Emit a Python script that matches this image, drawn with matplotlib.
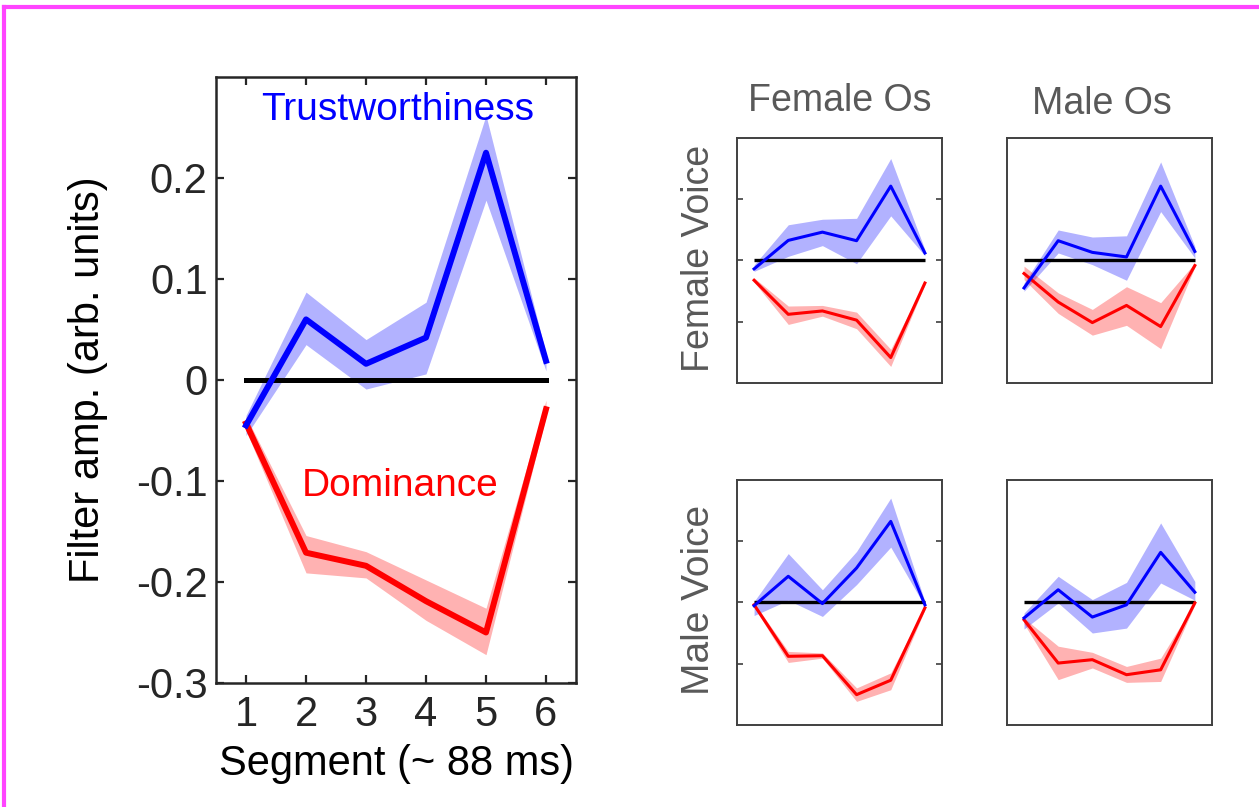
import matplotlib.pyplot as plt
from matplotlib.lines import Line2D

plt.rcParams['font.family'] = ['Liberation Sans', 'DejaVu Sans']

segments = [1, 2, 3, 4, 5, 6]

# main panel (all observers, all voices)
trust_mean = [-0.045, 0.060, 0.016, 0.042, 0.225, 0.019]
trust_lo = [-0.055, 0.035, -0.009, 0.006, 0.178, 0.009]
trust_hi = [-0.035, 0.087, 0.040, 0.077, 0.262, 0.026]
dom_mean = [-0.043, -0.171, -0.184, -0.219, -0.250, -0.029]
dom_lo = [-0.050, -0.191, -0.196, -0.238, -0.272, -0.036]
dom_hi = [-0.036, -0.154, -0.170, -0.198, -0.226, -0.020]

# small panels, order: female voice/female Os, female voice/male Os,
# male voice/female Os, male voice/male Os
sub_trust = [[-0.028, 0.065, 0.092, 0.064, 0.242, 0.024],
             [-0.090, 0.064, 0.026, 0.011, 0.242, 0.029],
             [-0.011, 0.085, -0.004, 0.112, 0.264, -0.008],
             [-0.051, 0.041, -0.048, -0.008, 0.163, 0.033]]
sub_trust_lo = [[-0.036, 0.013, 0.048, -0.011, 0.145, 0.015],
                [-0.101, 0.024, -0.014, -0.065, 0.159, 0.008],
                [-0.043, 0.007, -0.046, 0.058, 0.180, -0.013],
                [-0.087, -0.002, -0.100, -0.084, 0.063, 0.007]]
sub_trust_hi = [[-0.015, 0.116, 0.134, 0.137, 0.332, 0.035],
                [-0.074, 0.099, 0.076, 0.080, 0.321, 0.045],
                [0.003, 0.159, 0.041, 0.166, 0.340, 0.003],
                [-0.035, 0.085, 0.009, 0.065, 0.259, 0.068]]
sub_dom = [[-0.065, -0.176, -0.165, -0.195, -0.317, -0.074],
           [-0.043, -0.136, -0.203, -0.147, -0.216, -0.017],
           [-0.008, -0.176, -0.174, -0.301, -0.254, -0.018],
           [-0.057, -0.198, -0.187, -0.236, -0.220, -0.002]]
sub_dom_lo = [[-0.071, -0.209, -0.182, -0.223, -0.346, -0.079],
              [-0.063, -0.173, -0.244, -0.212, -0.288, -0.022],
              [-0.015, -0.196, -0.182, -0.323, -0.285, -0.024],
              [-0.070, -0.252, -0.214, -0.261, -0.258, -0.008]]
sub_dom_hi = [[-0.057, -0.149, -0.147, -0.169, -0.290, -0.068],
              [-0.019, -0.106, -0.160, -0.086, -0.138, -0.009],
              [-0.002, -0.160, -0.165, -0.279, -0.230, -0.013],
              [-0.051, -0.143, -0.163, -0.209, -0.182, 0.000]]

col_labels = ['Female Os', 'Male Os']
row_labels = ['Female Voice', 'Male Voice']

fig = plt.figure(figsize=(12.59, 8.07), dpi=100)

# magenta frame (top and left edges)
fig.add_artist(Line2D([0.003, 1.0], [0.991, 0.991], color='#ff44ff', lw=3,
                      transform=fig.transFigure))
fig.add_artist(Line2D([0.003, 0.003], [0.0, 0.991], color='#ff44ff', lw=3,
                      transform=fig.transFigure))

# ---- main panel ----
ax = fig.add_axes([0.1716, 0.1537, 0.2859, 0.7509])
ax.fill_between(segments, trust_lo, trust_hi, color='blue', alpha=0.3, lw=0)
ax.fill_between(segments, dom_lo, dom_hi, color='red', alpha=0.3, lw=0)
ax.plot([1, 6], [0, 0], color='black', lw=3.6, solid_capstyle='projecting')
ax.plot(segments, dom_mean, color='red', lw=4.3)
ax.plot(segments, trust_mean, color='blue', lw=4.3)
ax.text(3.53, 0.267, 'Trustworthiness', color='blue', fontsize=28,
        ha='center', va='center')
ax.text(3.57, -0.105, 'Dominance', color='red', fontsize=28,
        ha='center', va='center')
ax.set_xlim(0.5, 6.5)
ax.set_ylim(-0.3, 0.3)
ax.set_xticks(segments)
ax.set_yticks([-0.3, -0.2, -0.1, 0, 0.1, 0.2])
ax.set_yticklabels(['-0.3', '-0.2', '-0.1', '0', '0.1', '0.2'])
ax.tick_params(direction='in', top=True, right=True, length=6, width=1.6,
               color='#262626', labelcolor='#262626', labelsize=30)
ax.tick_params(axis='x', pad=9)
ax.tick_params(axis='y', pad=6)
for s in ax.spines.values():
    s.set_linewidth(1.8)
    s.set_color('#262626')
ax.set_xlabel('Segment (~ 88 ms)', fontsize=30, labelpad=6)
ax.set_ylabel('Filter amp. (arb. units)', fontsize=30, labelpad=20)

# ---- small panels ----
positions = [[0.5854, 0.5254], [0.7998, 0.5254],
             [0.5854, 0.1016], [0.7998, 0.1016]]
for i, (x0, y0) in enumerate(positions):
    sa = fig.add_axes([x0, y0, 0.1628, 0.3040])
    sa.fill_between(segments, sub_trust_lo[i], sub_trust_hi[i], color='blue',
                    alpha=0.3, lw=0)
    sa.fill_between(segments, sub_dom_lo[i], sub_dom_hi[i], color='red',
                    alpha=0.3, lw=0)
    sa.plot([1, 6], [0, 0], color='black', lw=2.4, solid_capstyle='butt')
    sa.plot(segments, sub_dom[i], color='red', lw=2.2)
    sa.plot(segments, sub_trust[i], color='blue', lw=2.2)
    sa.set_xlim(0.5, 6.5)
    sa.set_ylim(-0.4, 0.4)
    sa.set_xticks([])
    if i % 2 == 0:
        sa.set_yticks([-0.2, 0, 0.2])
        sa.tick_params(axis='y', direction='in', left=True, right=True,
                       length=4, width=1.2, color='#404040', labelleft=False)
    else:
        sa.set_yticks([])
    for s in sa.spines.values():
        s.set_linewidth(1.4)
        s.set_color('#404040')

fig.text(840 / 1259, 1 - 101 / 807, col_labels[0], fontsize=27,
         color='#595959', ha='center', va='center')
fig.text(1102 / 1259, 1 - 104 / 807, col_labels[1], fontsize=27,
         color='#595959', ha='center', va='center')
fig.text(699 / 1259, 1 - 258 / 807, row_labels[0], fontsize=27,
         color='#595959', ha='center', va='center', rotation=90)
fig.text(699 / 1259, 1 - 600 / 807, row_labels[1], fontsize=28,
         color='#595959', ha='center', va='center', rotation=90)

fig.savefig('out.png', dpi=100)
